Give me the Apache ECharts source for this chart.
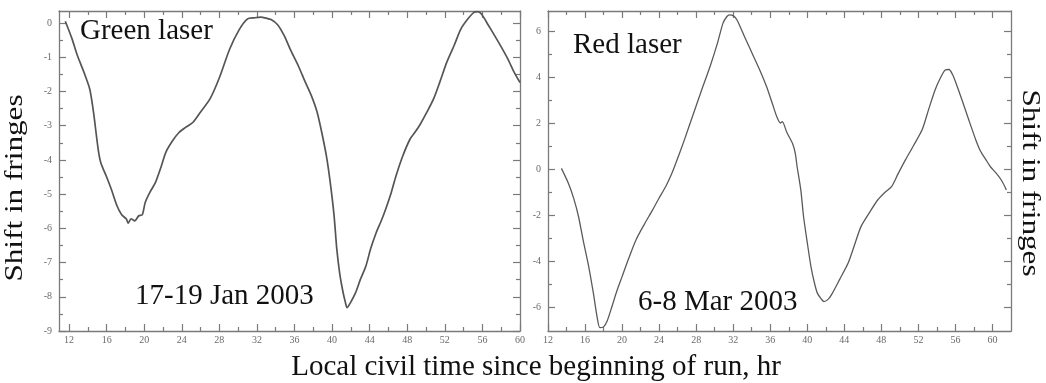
<!DOCTYPE html>
<html>
<head>
<meta charset="utf-8">
<script src="https://cdn.jsdelivr.net/npm/echarts@6/dist/echarts.min.js"></script>
<style>
  html, body { margin: 0; padding: 0; background: #fff; }
  #chart { width: 1046px; height: 383px; }
</style>
</head>
<body>
<div id="chart"></div>
<script>
// green laser, 17-19 Jan 2003 (hours, fringes)
const greenHours = [11.6, 12.3, 12.9, 13.6, 14.2, 14.6, 15.1, 15.4, 16.0, 16.5, 17.1, 17.6, 18.1, 18.3, 18.6, 19.0, 19.4, 19.8, 20.1, 20.6, 21.2, 21.8, 22.3, 23.0, 23.7, 24.4, 25.2, 26.0, 27.0, 28.0, 29.1, 30.1, 31.0, 31.7, 32.4, 33.0, 33.5, 34.2, 34.9, 35.6, 36.4, 37.1, 37.8, 38.4, 38.9, 39.4, 39.8, 40.2, 40.5, 40.8, 41.1, 41.4, 41.6, 41.9, 42.5, 43.0, 43.6, 44.1, 44.7, 45.2, 45.7, 46.3, 46.8, 47.5, 48.3, 48.8, 49.4, 50.1, 50.8, 51.5, 52.2, 53.0, 53.7, 54.4, 55.1, 55.5, 55.9, 56.6, 57.3, 58.0, 58.7, 59.4, 60.0];
const greenShift = [0.05, -0.45, -0.96, -1.45, -1.93, -2.6, -3.69, -4.1, -4.5, -4.86, -5.34, -5.6, -5.73, -5.85, -5.72, -5.78, -5.64, -5.6, -5.25, -4.95, -4.66, -4.2, -3.78, -3.45, -3.2, -3.05, -2.9, -2.6, -2.22, -1.6, -0.76, -0.2, 0.12, 0.15, 0.17, 0.14, 0.1, -0.05, -0.37, -0.8, -1.25, -1.7, -2.13, -2.6, -3.2, -3.9, -4.66, -5.6, -6.61, -7.3, -7.78, -8.15, -8.32, -8.2, -7.88, -7.5, -7.1, -6.6, -6.12, -5.8, -5.44, -4.95, -4.47, -3.9, -3.39, -3.2, -2.95, -2.6, -2.22, -1.7, -1.15, -0.65, -0.18, 0.1, 0.31, 0.33, 0.26, -0.05, -0.37, -0.7, -1.05, -1.45, -1.74];

// red laser, 6-8 Mar 2003
const redHours = [13.45, 14.2, 14.8, 15.3, 15.8, 16.4, 16.9, 17.3, 17.6, 18.0, 18.4, 18.9, 19.4, 20.0, 20.7, 21.5, 22.4, 23.3, 24.0, 24.7, 25.3, 25.8, 26.7, 27.6, 28.5, 29.5, 30.3, 30.9, 31.3, 31.6, 32.0, 32.4, 33.2, 34.2, 34.9, 35.6, 36.2, 36.7, 37.1, 37.3, 37.8, 38.4, 38.7, 38.9, 39.3, 39.6, 40.0, 40.4, 40.8, 41.1, 41.5, 41.8, 42.3, 42.7, 43.5, 44.4, 45.1, 45.8, 46.7, 47.6, 48.4, 49.1, 49.8, 50.6, 51.5, 52.4, 53.1, 53.8, 54.4, 54.9, 55.3, 55.7, 56.2, 56.7, 57.4, 58.2, 58.7, 59.3, 59.8, 60.4, 61.0, 61.5];
const redShift = [0.04, -0.61, -1.3, -2.07, -3.1, -4.25, -5.4, -6.43, -6.9, -6.87, -6.6, -5.99, -5.35, -4.68, -3.9, -3.08, -2.4, -1.77, -1.25, -0.76, -0.25, 0.26, 1.25, 2.3, 3.35, 4.48, 5.5, 6.37, 6.65, 6.73, 6.7, 6.52, 5.8, 4.92, 4.3, 3.61, 2.9, 2.3, 2.01, 2.08, 1.6, 1.13, 0.7, 0.12, -0.9, -2.07, -3.2, -4.25, -5.0, -5.41, -5.65, -5.77, -5.65, -5.41, -4.8, -4.1, -3.3, -2.5, -1.9, -1.34, -1.0, -0.76, -0.2, 0.41, 1.05, 1.72, 2.6, 3.46, 4.0, 4.33, 4.35, 4.12, 3.6, 3.03, 2.2, 1.28, 0.8, 0.41, 0.1, -0.17, -0.5, -0.9];

// tick positions and labels
const greenXTicks = [12, 16, 20, 24, 28, 32, 36, 40, 44, 48, 52, 56, 60];
const greenXMinor = [14, 18, 22, 26, 30, 34, 38, 42, 46, 50, 54, 58];
const greenYTicks = [-9, -8, -7, -6, -5, -4, -3, -2, -1, 0];
const greenYMinor = [-8.5, -7.5, -6.5, -5.5, -4.5, -3.5, -2.5, -1.5, -0.5];
const redXTicks = [12, 16, 20, 24, 28, 32, 36, 40, 44, 48, 52, 56, 60];
const redXMinor = [14, 18, 22, 26, 30, 34, 38, 42, 46, 50, 54, 58];
const redYTicks = [-6, -4, -2, 0, 2, 4, 6];
const redYMinor = [-5, -3, -1, 1, 3, 5];

const serif = "'Liberation Serif', 'DejaVu Serif', serif";
const axisGrey = "#7a7a7a";

// one axis = 4 layers: bottom/left majors with labels, minors, then mirrored on top/right
function axisSet(kind, gridIndex, min, max, majors, minors) {
  const sides = kind === "x" ? ["bottom", "top"] : ["left", "right"];
  const out = [];
  sides.forEach((pos, s) => {
    [majors, minors].forEach((vals, m) => {
      out.push({
        type: "value",
        gridIndex: gridIndex,
        position: pos,
        min: min,
        max: max,
        splitLine: { show: false },
        axisLine: { show: m === 0, onZero: false, lineStyle: { color: axisGrey, width: 1.3 } },
        axisTick: {
          show: true,
          inside: true,
          length: m === 0 ? 7 : 4,
          customValues: vals,
          lineStyle: { color: axisGrey, width: 1.2 }
        },
        axisLabel: {
          show: s === 0 && m === 0,
          customValues: majors,
          color: "#6a6a6a",
          fontFamily: serif,
          fontSize: 10,
          margin: kind === "x" ? 4 : 7
        }
      });
    });
  });
  return out;
}

const chart = echarts.init(document.getElementById("chart"));

const option = {
  backgroundColor: "#fff",
  animation: false,
  grid: [
    { left: 59, right: 526, top: 11, bottom: 52, show: false },
    { left: 548, right: 35, top: 11, bottom: 52, show: false }
  ],
  xAxis: [
    ...axisSet("x", 0, 10.93, 60, greenXTicks, greenXMinor),
    ...axisSet("x", 1, 12, 62, redXTicks, redXMinor)
  ],
  yAxis: [
    ...axisSet("y", 0, -9, 0.35, greenYTicks, greenYMinor),
    ...axisSet("y", 1, -7.05, 6.9, redYTicks, redYMinor)
  ],
  series: [
    {
      type: "line",
      xAxisIndex: 0,
      yAxisIndex: 0,
      data: greenHours.map((h, i) => [h, greenShift[i]]),
      showSymbol: false,
      smooth: 0.25,
      lineStyle: { color: "#555", width: 1.7 }
    },
    {
      type: "line",
      xAxisIndex: 4,
      yAxisIndex: 4,
      data: redHours.map((h, i) => [h, redShift[i]]),
      showSymbol: false,
      smooth: 0.25,
      lineStyle: { color: "#5a5a5a", width: 1.3 }
    }
  ],
  graphic: [
    {
      type: "text", x: 80, y: 31,
      style: { text: "Green laser", font: "29px " + serif, fill: "#111", textAlign: "left", textVerticalAlign: "middle" }
    },
    {
      type: "text", x: 135, y: 296,
      style: { text: "17-19 Jan 2003", font: "29px " + serif, fill: "#111", textAlign: "left", textVerticalAlign: "middle" }
    },
    {
      type: "text", x: 573, y: 45,
      style: { text: "Red laser", font: "29px " + serif, fill: "#111", textAlign: "left", textVerticalAlign: "middle" }
    },
    {
      type: "text", x: 638, y: 302,
      style: { text: "6-8 Mar 2003", font: "29px " + serif, fill: "#111", textAlign: "left", textVerticalAlign: "middle" }
    },
    {
      type: "text", x: 536, y: 367,
      style: { text: "Local civil time since beginning of run, hr", font: "29px " + serif, fill: "#111", textAlign: "center", textVerticalAlign: "middle" }
    },
    {
      type: "text", x: 15, y: 188, rotation: Math.PI / 2, scaleX: 1.2,
      style: { text: "Shift in fringes", font: "26px " + serif, fill: "#111", textAlign: "center", textVerticalAlign: "middle" }
    },
    {
      type: "text", x: 1030, y: 183, rotation: -Math.PI / 2, scaleX: 1.2,
      style: { text: "Shift in fringes", font: "26px " + serif, fill: "#111", textAlign: "center", textVerticalAlign: "middle" }
    }
  ]
};

chart.setOption(option);
</script>
</body>
</html>
